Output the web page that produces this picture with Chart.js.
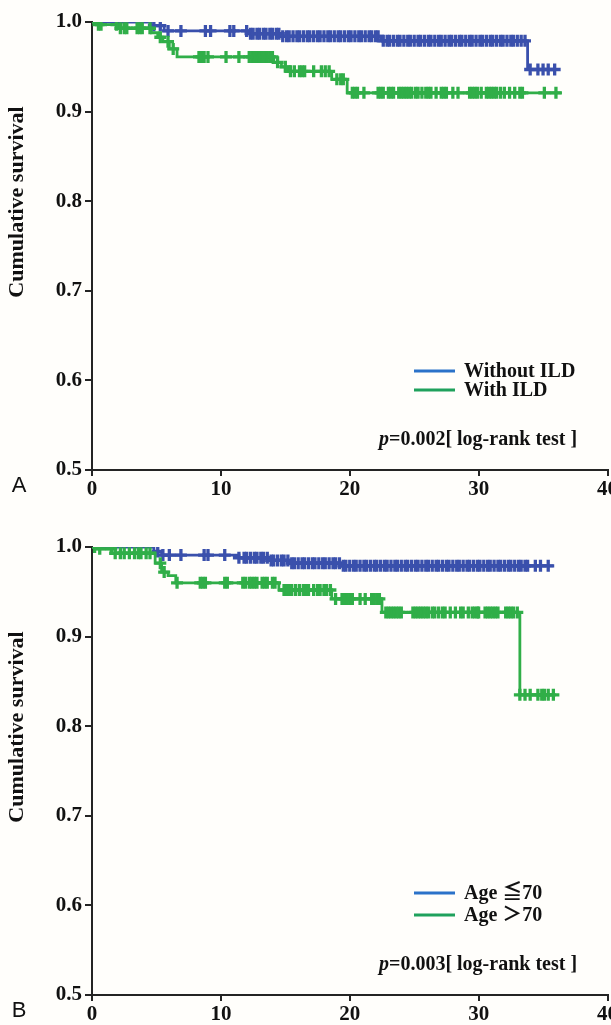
<!DOCTYPE html>
<html>
<head>
<meta charset="utf-8">
<script src="https://cdn.jsdelivr.net/npm/chart.js@4.4.1/dist/chart.umd.min.js"></script>
<style>
  html, body { margin: 0; padding: 0; background: #fffefb; overflow: hidden; }
  #wrap { position: relative; width: 611px; height: 1025px; overflow: hidden; }
  canvas { position: absolute; left: 0; }
  #cA { top: 0; }
  #cB { top: 525px; }
</style>
</head>
<body>
<div id="wrap">
  <canvas id="cA" width="619" height="508"></canvas>
  <canvas id="cB" width="619" height="508"></canvas>
</div>
<script>
// ---------- Axis ticks ----------
const xTicks = [0, 10, 20, 30, 40];
const yTicks = [0.5, 0.6, 0.7, 0.8, 0.9, 1.0];

// ---------- Panel A : ILD ----------
const aLabels = ["Without ILD", "With ILD"];
const aPText = "=0.002[ log-rank test ]";
// Without ILD (step times / survival after step)
const aBlueTimes = [0, 4.6, 5.6, 12.3, 14.6, 22.4, 33.8];
const aBlueSurv  = [1.0, 0.996, 0.990, 0.987, 0.984, 0.979, 0.947];
const aBlueEnd = 36.3;
const aBlueCensor = [4.8, 5.3, 5.9, 6.9, 8.8, 9.2, 10.7, 11.0, 12.0, 12.3, 12.5, 12.8, 13.0, 13.3, 13.5, 13.8,
  14.0, 14.3, 14.5, 14.8, 15.1, 15.3, 15.6, 15.9, 16.1, 16.4, 16.7, 16.9, 17.2, 17.5, 17.7, 18.0, 18.3, 18.5,
  18.8, 19.1, 19.3, 19.6, 19.9, 20.1, 20.4, 20.7, 20.9, 21.2, 21.5, 21.7, 22.0, 22.2, 22.6, 22.9, 23.1, 23.4,
  23.7, 23.9, 24.2, 24.5, 24.7, 25.0, 25.3, 25.5, 25.8, 26.1, 26.3, 26.6, 26.9, 27.1, 27.4, 27.7, 27.9, 28.2,
  28.5, 28.7, 29.0, 29.3, 29.5, 29.8, 30.1, 30.3, 30.6, 30.9, 31.1, 31.4, 31.7, 31.9, 32.2, 32.5, 32.7, 33.0,
  33.3, 33.6, 34.0, 34.6, 35.0, 35.4, 35.9];
// With ILD
const aGreenTimes = [0, 0.4, 2.0, 4.6, 5.1, 5.5, 6.0, 6.6, 14.1, 14.7, 15.2, 18.6, 19.8];
const aGreenSurv  = [1.0, 0.997, 0.993, 0.988, 0.983, 0.978, 0.970, 0.961, 0.955, 0.950, 0.945, 0.936, 0.921];
const aGreenEnd = 36.4;
const aGreenCensor = [0.5, 0.7, 1.9, 2.2, 2.5, 2.7, 3.5, 3.7, 3.9, 4.5, 5.3, 5.9, 6.3, 8.3, 8.5, 8.7, 9.0, 10.4,
  11.4, 12.2, 12.4, 12.6, 12.8, 13.0, 13.2, 13.4, 13.6, 13.8, 14.0, 14.4, 15.0, 15.4, 15.7, 16.1, 16.3, 16.5,
  17.2, 17.8, 18.1, 18.4, 19.0, 19.3, 19.5, 20.2, 20.4, 20.6, 21.1, 22.2, 22.4, 22.6, 23.0, 23.2, 23.4, 23.8,
  24.0, 24.2, 24.4, 24.6, 24.8, 25.1, 25.3, 25.6, 25.9, 26.1, 26.3, 26.7, 27.1, 27.3, 27.5, 28.0, 28.4, 29.3,
  29.5, 29.7, 29.9, 30.2, 30.6, 30.8, 31.0, 31.2, 31.4, 31.7, 32.0, 32.4, 32.8, 33.2, 33.4, 35.1, 36.0];

// ---------- Panel B : Age ----------
const bLabels = ["Age \u226670", "Age \uFF1E70"];
const bPText = "=0.003[ log-rank test ]";
// Age <= 70
const bBlueTimes = [0, 4.8, 5.4, 11.4, 13.7, 15.3, 19.4];
const bBlueSurv  = [1.0, 0.995, 0.991, 0.988, 0.985, 0.982, 0.979];
const bBlueEnd = 35.8;
const bBlueCensor = [5.1, 5.5, 6.0, 6.9, 8.7, 9.0, 10.3, 11.4, 11.8, 12.0, 12.3, 12.6, 12.8, 13.1, 13.3, 13.6,
  13.9, 14.1, 14.4, 14.7, 14.9, 15.2, 15.5, 15.7, 16.0, 16.3, 16.5, 16.8, 17.1, 17.3, 17.6, 17.9, 18.1, 18.4,
  18.7, 18.9, 19.2, 19.5, 19.7, 20.0, 20.3, 20.5, 20.8, 21.1, 21.3, 21.6, 21.9, 22.1, 22.4, 22.7, 22.9, 23.2,
  23.5, 23.7, 24.0, 24.3, 24.5, 24.8, 25.1, 25.3, 25.6, 25.9, 26.1, 26.4, 26.7, 26.9, 27.2, 27.5, 27.7, 28.0,
  28.3, 28.5, 28.8, 29.1, 29.3, 29.6, 29.9, 30.1, 30.4, 30.7, 30.9, 31.2, 31.5, 31.7, 32.0, 32.3, 32.5, 32.8,
  33.1, 33.3, 33.6, 33.8, 34.4, 34.8, 35.4];
// Age > 70
const bGreenTimes = [0, 0.4, 1.8, 4.9, 5.4, 5.9, 6.5, 14.5, 18.6, 22.5, 33.2];
const bGreenSurv  = [1.0, 0.998, 0.993, 0.982, 0.972, 0.968, 0.960, 0.952, 0.942, 0.927, 0.835];
const bGreenEnd = 36.0;
const bGreenCensor = [0.2, 0.6, 1.5, 1.8, 2.2, 2.5, 2.9, 3.3, 3.6, 3.8, 4.2, 4.5, 5.3, 5.6, 6.6, 8.4, 8.6, 8.8,
  10.3, 10.5, 11.7, 11.9, 12.2, 12.4, 12.6, 12.8, 13.2, 13.4, 13.6, 14.0, 14.2, 14.9, 15.1, 15.3, 15.5, 15.8,
  16.1, 16.4, 16.6, 16.8, 17.2, 17.5, 17.7, 18.0, 18.2, 18.5, 18.9, 19.4, 19.6, 19.8, 20.0, 20.2, 20.8, 21.2,
  21.7, 21.9, 22.1, 22.3, 22.8, 23.0, 23.2, 23.4, 23.6, 23.8, 24.0, 24.9, 25.1, 25.3, 25.5, 25.7, 25.9, 26.1,
  26.4, 26.6, 26.9, 27.2, 27.4, 27.8, 28.2, 28.6, 28.8, 29.2, 29.5, 29.7, 29.9, 30.0, 30.5, 30.7, 30.9, 31.1,
  31.3, 31.5, 32.1, 32.3, 32.5, 32.7, 33.0, 33.2, 33.6, 34.0, 34.6, 34.9, 35.1, 35.4, 35.8];

// ---------- Styles ----------
const BLUE = '#3a50ac';
const GREEN = '#30ae48';
const LEG_BLUE = '#2b72c9';
const LEG_GREEN = '#1fa15c';
const AXIS = '#242424';
const SERIF = '"Liberation Serif", "Times New Roman", serif';

function stepPoints(times, surv, end) {
  const pts = times.map((t, i) => ({ x: t, y: surv[i] }));
  pts.push({ x: end, y: surv[surv.length - 1] });
  return pts;
}
function censorPoints(times, surv, cens) {
  return cens.map(c => {
    let s = surv[0];
    for (let i = 0; i < times.length; i++) if (times[i] <= c) s = surv[i];
    return { x: c, y: s };
  });
}

const textPlugin = {
  id: 'kmText',
  afterDraw(chart, args, o) {
    const ctx = chart.ctx, ca = chart.chartArea;
    ctx.save();
    // y-axis title
    ctx.fillStyle = '#111';
    ctx.font = 'bold 22px ' + SERIF;
    ctx.textAlign = 'center';
    ctx.textBaseline = 'middle';
    ctx.translate(17, ca.top + 180);
    ctx.rotate(-Math.PI / 2);
    ctx.fillText('Cumulative survival', 0, 0);
    ctx.restore();

    ctx.save();
    // legend
    const y2 = ca.bottom - 80, y1 = y2 - o.gap;
    ctx.lineWidth = 3;
    [[o.labels[0], LEG_BLUE, y1], [o.labels[1], LEG_GREEN, y2]].forEach(([t, c, y]) => {
      ctx.strokeStyle = c;
      ctx.beginPath(); ctx.moveTo(414, y); ctx.lineTo(455, y); ctx.stroke();
      ctx.fillStyle = '#111';
      ctx.font = 'bold 20px ' + SERIF + ', "Noto Sans CJK SC"';
      ctx.textAlign = 'left'; ctx.textBaseline = 'middle';
      ctx.fillText(t, 464, y + 1);
    });
    // p-value
    const py = ca.bottom - 30;
    ctx.font = 'italic bold 20px ' + SERIF;
    ctx.fillText('p', 379, py);
    const w = ctx.measureText('p').width;
    ctx.font = 'bold 20px ' + SERIF;
    ctx.fillText(o.p, 379 + w, py);
    // panel letter
    ctx.font = '22px "Liberation Sans", Arial, sans-serif';
    ctx.textAlign = 'center';
    ctx.fillText(o.letter, 19, ca.bottom + 16);
    ctx.restore();
  }
};

function makeChart(id, letter, labels, pText, gap, bT, bS, bE, bC, gT, gS, gE, gC) {
  const cens = (data, col, lab) => ({ label: lab, data: data, showLine: false, pointStyle: 'cross',
    pointRadius: 6, pointBorderWidth: 3.3, borderColor: col, backgroundColor: col });
  return new Chart(document.getElementById(id), {
    type: 'line',
    data: {
      datasets: [
        cens(censorPoints(gT, gS, gC), GREEN, labels[1] + ' censored'),
        { label: labels[1], data: stepPoints(gT, gS, gE), stepped: true, borderColor: GREEN,
          borderWidth: 2.8, pointRadius: 0, fill: false },
        cens(censorPoints(bT, bS, bC), BLUE, labels[0] + ' censored'),
        { label: labels[0], data: stepPoints(bT, bS, bE), stepped: true, borderColor: BLUE,
          borderWidth: 2.8, pointRadius: 0, fill: false }
      ]
    },
    options: {
      responsive: false,
      animation: false,
      devicePixelRatio: 1,
      layout: { padding: { top: 22, right: 0, left: 0, bottom: 0 } },
      plugins: {
        legend: { display: false },
        tooltip: { enabled: false },
        kmText: { letter: letter, labels: labels, p: pText, gap: gap }
      },
      scales: {
        x: {
          type: 'linear', min: xTicks[0], max: xTicks[xTicks.length - 1],
          afterBuildTicks: s => { s.ticks = xTicks.map(v => ({ value: v })); },
          afterFit: s => { s.height = 38; },
          border: { display: true, color: AXIS, width: 2 },
          grid: { display: true, drawOnChartArea: false, drawTicks: true, tickLength: 6, color: AXIS, lineWidth: 2 },
          ticks: { color: '#111', padding: 1, maxRotation: 0, font: { family: SERIF, weight: 'bold', size: 21 },
                   callback: v => String(v) }
        },
        y: {
          type: 'linear', min: yTicks[0], max: yTicks[yTicks.length - 1],
          afterBuildTicks: s => { s.ticks = yTicks.map(v => ({ value: v })); },
          afterFit: s => { s.width = 92; },
          border: { display: true, color: AXIS, width: 2 },
          grid: { display: true, drawOnChartArea: false, drawTicks: true, tickLength: 7, color: AXIS, lineWidth: 2 },
          ticks: { color: '#111', padding: 3, font: { family: SERIF, weight: 'bold', size: 21 },
                   callback: v => Number(v).toFixed(1) }
        }
      }
    },
    plugins: [textPlugin]
  });
}

makeChart('cA', 'A', aLabels, aPText, 19, aBlueTimes, aBlueSurv, aBlueEnd, aBlueCensor,
          aGreenTimes, aGreenSurv, aGreenEnd, aGreenCensor);
makeChart('cB', 'B', bLabels, bPText, 22, bBlueTimes, bBlueSurv, bBlueEnd, bBlueCensor,
          bGreenTimes, bGreenSurv, bGreenEnd, bGreenCensor);
</script>
</body>
</html>
